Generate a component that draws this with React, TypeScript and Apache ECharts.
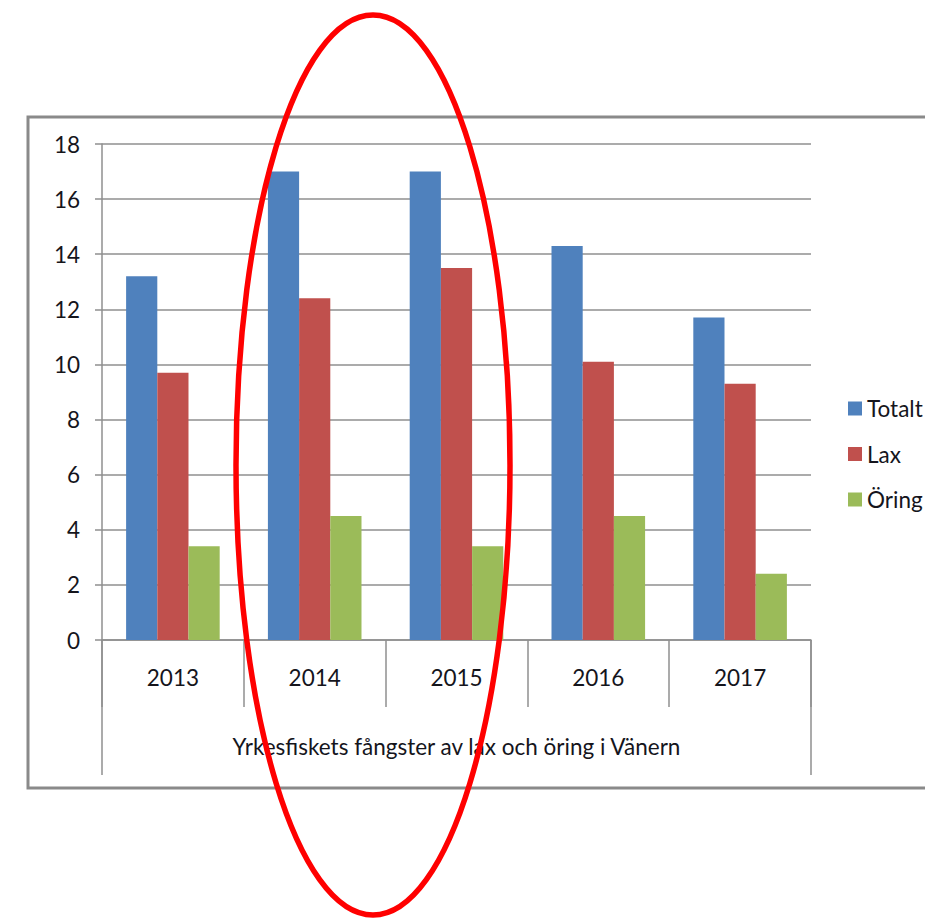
import React, { useEffect, useRef } from "react";
import * as echarts from "echarts";

const years = ["2013", "2014", "2015", "2016", "2017"];
const totalt = [13.2, 17.0, 17.0, 14.3, 11.7];
const lax = [9.7, 12.4, 13.5, 10.1, 9.3];
const oring = [3.4, 4.5, 3.4, 4.5, 2.4];
const seriesNames = ["Totalt", "Lax", "Öring"];
const axisTitle = ["Yrkesfiskets fångster av lax och öring i Vänern"];

const FONT = "Lato";
const TEXT = "#15151c";
const GRID = "#8f8f8f";
const FS = 22.5;

export default function App() {
  const ref = useRef<HTMLDivElement>(null);
  useEffect(() => {
    document.body.style.margin = "0";
    const chart = echarts.init(ref.current!, null, { renderer: "svg" });
    chart.setOption({
      animation: false,
      backgroundColor: "#ffffff",
      textStyle: { fontFamily: FONT, color: TEXT },
      grid: { left: 102, right: 114, top: 144, bottom: 281, containLabel: false },
      legend: {
        orient: "vertical",
        left: 843,
        top: 392,
        itemWidth: 14,
        itemHeight: 14,
        itemGap: 22.5,
        icon: "rect",
        data: seriesNames,
        textStyle: { fontFamily: FONT, fontSize: FS, color: TEXT, lineHeight: 22 },
      },
      xAxis: [
        {
          type: "category",
          data: years,
          position: "bottom",
          axisLine: { show: true, lineStyle: { color: GRID, width: 1.5 } },
          axisTick: { show: true, alignWithLabel: false, length: 67, lineStyle: { color: GRID, width: 1.5 } },
          axisLabel: { margin: 26, fontSize: FS, color: TEXT, fontFamily: FONT },
          splitLine: { show: false },
        },
        {
          type: "category",
          data: axisTitle,
          position: "bottom",
          offset: 0,
          axisLine: { show: false },
          axisTick: { show: true, length: 135, lineStyle: { color: GRID, width: 1.5 } },
          axisLabel: { margin: 95, fontSize: FS, color: TEXT, fontFamily: FONT },
          splitLine: { show: false },
        },
      ],
      yAxis: {
        type: "value",
        min: 0,
        max: 18,
        interval: 2,
        axisLine: { show: true, lineStyle: { color: GRID, width: 1.5 } },
        axisTick: { show: true, length: 7, lineStyle: { color: GRID, width: 1.5 } },
        axisLabel: { margin: 22, fontSize: FS, color: TEXT, fontFamily: FONT },
        splitLine: { show: true, lineStyle: { color: GRID, width: 1.5 } },
      },
      series: [
        { name: seriesNames[0], type: "bar", data: totalt, itemStyle: { color: "#4F81BD" }, barGap: "0%", barCategoryGap: "34%" },
        { name: seriesNames[1], type: "bar", data: lax, itemStyle: { color: "#C0504D" }, barGap: "0%", barCategoryGap: "34%" },
        { name: seriesNames[2], type: "bar", data: oring, itemStyle: { color: "#9BBB59" }, barGap: "0%", barCategoryGap: "34%" },
      ],
      graphic: [
        {
          type: "rect",
          silent: true,
          shape: { x: 28, y: 117, width: 940, height: 671 },
          style: { fill: "none", stroke: "#8a8a8a", lineWidth: 3 },
          z: 0,
        },
        {
          type: "ellipse",
          silent: true,
          shape: { cx: 373, cy: 465, rx: 137, ry: 450 },
          style: { fill: "none", stroke: "#ff0000", lineWidth: 5.5 },
          z: 100,
        },
      ],
    });
    return () => chart.dispose();
  }, []);
  return <div ref={ref} style={{ width: 925, height: 921 }} />;
}
